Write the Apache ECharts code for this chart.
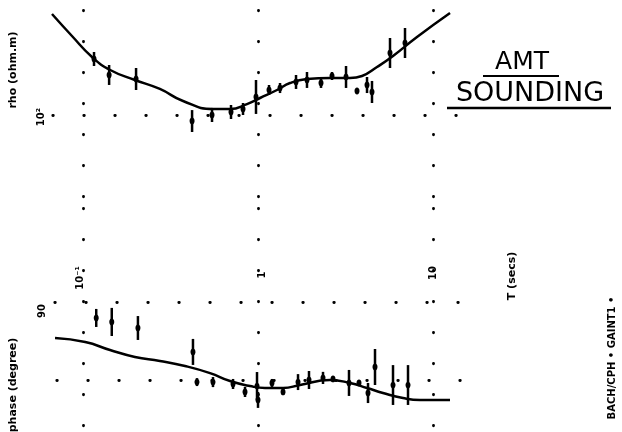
<!DOCTYPE html>
<html>
<head>
<meta charset="utf-8">
<title>AMT sounding</title>
<script src="https://cdn.jsdelivr.net/npm/echarts@6/dist/echarts.min.js"></script>
<style>
  html, body { margin: 0; padding: 0; background: #fff; }
  #chart { width: 622px; height: 432px; }
</style>
</head>
<body>
<div id="chart"></div>
<script>
// model curve, apparent resistivity (period in secs, rho in ohm.m)
const rhoCurvePeriod = [0.0665, 0.0865, 0.1126, 0.143, 0.198, 0.275, 0.373, 0.553, 0.692, 0.865,
  1.027, 1.284, 1.524, 1.905, 2.578, 3.355, 3.929, 4.786, 5.908, 8.101, 12.51];
const rhoCurve = [4256, 1880, 862, 532, 367, 263, 168, 125, 125, 150,
  188, 253, 328, 381, 395, 395, 426, 595, 894, 1811, 4416];

// measured rho with error bar ends
const rhoPeriod = [0.1156, 0.141, 0.201, 0.42, 0.546, 0.701, 0.821, 0.974, 1.156, 1.336,
  1.649, 1.905, 2.291, 2.648, 3.184, 3.679, 4.197, 4.481, 5.679, 6.918];
const rhoValue = [800, 442, 381, 80, 100, 112, 125, 195, 253, 273, 341, 367, 328, 426, 410, 244, 305, 235, 1000, 1450];
const rhoLow = [617, 305, 253, 53.2, 77.1, 86.2, 100, 104, 210, 226, 263, 273, 273, 367, 273, 244, 226, 156, 573, 830];
const rhoHigh = [1038, 641, 573, 120, 130, 145, 156, 367, 305, 328, 442, 494, 395, 494, 617, 244, 410, 354, 1745, 2530];

// model curve, phase (degrees)
const phaseCurvePeriod = [0.0692, 0.103, 0.1427, 0.198, 0.275, 0.3828, 0.532, 0.692, 0.9, 1.096,
  1.39, 1.738, 2.578, 3.355, 4.197, 5.179, 6.739, 8.43, 12.51];
const phaseCurve = [69.2, 66.9, 62.3, 58.3, 56.0, 53.1, 49.0, 44.4, 41.5, 40.4,
  40.4, 42.1, 45.0, 43.3, 40.4, 37.5, 34.6, 33.5, 33.5];

// measured phase with +/- error
const phasePeriod = [0.119, 0.146, 0.206, 0.425, 0.448, 0.553, 0.72, 0.843, 0.987, 1.0, 1.202,
  1.39, 1.693, 1.956, 2.352, 2.683, 3.311, 3.777, 4.252, 4.662, 5.908, 7.197];
const phaseValue = [80.8, 78.5, 75.0, 61.2, 43.8, 43.8, 42.7, 38.1, 41.5, 33.5, 43.3,
  38.1, 43.8, 45.0, 46.2, 45.6, 43.3, 43.3, 37.5, 52.5, 42.1, 42.1];
const phaseErr = [5.2, 8.1, 6.9, 7.5, 2.3, 2.9, 2.9, 2.9, 8.1, 4.6, 2.3,
  1.7, 4.6, 5.2, 3.5, 1.7, 7.5, 1.7, 5.8, 10.4, 11.5, 11.5];

// dotted reference lines
const periodDecades = [0.1, 1, 10];
const rhoRows = [100];
const phaseRows = [90, 45];

const chart = echarts.init(document.getElementById('chart'));

const ink = '#000';
const labelFont = 'bold 11px "DejaVu Sans"';

// draw one error bar with a blob at the measured value
function errorBar(params, api) {
  const t = api.value(0);
  const mid = api.coord([t, api.value(1)]);
  const lo = api.coord([t, api.value(2)]);
  const hi = api.coord([t, api.value(3)]);
  const children = [];
  if (Math.abs(hi[1] - lo[1]) > 0.5) {
    children.push({
      type: 'line',
      shape: { x1: lo[0], y1: lo[1], x2: hi[0], y2: hi[1] },
      style: { stroke: ink, lineWidth: 2.5 }
    });
  }
  children.push({
    type: 'ellipse',
    shape: { cx: mid[0], cy: mid[1], rx: 2.5, ry: 3.4 },
    style: { fill: ink }
  });
  return { type: 'group', children: children };
}

// dotted lines: vertical at decades, horizontal at the rows
function dots(rows, vOffset, hOffsets) {
  const items = periodDecades.map(function (p) {
    return { xAxis: p, lineStyle: { dashOffset: vOffset } };
  });
  rows.forEach(function (v, i) {
    items.push({ yAxis: v, lineStyle: { dashOffset: hOffsets[i] } });
  });
  return {
    silent: true,
    symbol: ['none', 'none'],
    label: { show: false },
    lineStyle: { color: ink, width: 2.8, type: [0.5, 30.5], cap: 'round' },
    data: items
  };
}

// rotated text helper
function vText(x, y, text, font) {
  return {
    type: 'text', x: x, y: y, rotation: Math.PI / 2,
    style: { text: text, font: font || labelFont, fill: ink, align: 'center', verticalAlign: 'middle' }
  };
}

const xAxisBase = {
  type: 'log',
  min: 0.05679,
  max: 16.27,
  show: false
};

const option = {
  backgroundColor: '#fff',
  animation: false,
  grid: [
    { left: 40, right: 152, top: 0, height: 200 },
    { left: 40, right: 152, top: 200, height: 232 }
  ],
  xAxis: [
    Object.assign({ gridIndex: 0 }, xAxisBase),
    Object.assign({ gridIndex: 1 }, xAxisBase)
  ],
  yAxis: [
    { gridIndex: 0, type: 'log', min: 4.256, max: 7158, show: false },
    { gridIndex: 1, type: 'value', min: 15, max: 148.85, show: false }
  ],
  series: [
    {
      type: 'line',
      xAxisIndex: 0, yAxisIndex: 0,
      smooth: 0.5,
      showSymbol: false,
      lineStyle: { color: ink, width: 2.5 },
      data: rhoCurvePeriod.map(function (t, i) { return [t, rhoCurve[i]]; }),
      markLine: dots(rhoRows, 27.8, [18.2])
    },
    {
      type: 'custom',
      xAxisIndex: 0, yAxisIndex: 0,
      renderItem: errorBar,
      encode: { x: 0, y: [1, 2, 3] },
      data: rhoPeriod.map(function (t, i) { return [t, rhoValue[i], rhoLow[i], rhoHigh[i]]; })
    },
    {
      type: 'line',
      xAxisIndex: 1, yAxisIndex: 1,
      smooth: 0.5,
      showSymbol: false,
      lineStyle: { color: ink, width: 2.5 },
      data: phaseCurvePeriod.map(function (t, i) { return [t, phaseCurve[i]]; }),
      markLine: dots(phaseRows, 24.8, [16.2, 14.2])
    },
    {
      type: 'custom',
      xAxisIndex: 1, yAxisIndex: 1,
      renderItem: errorBar,
      encode: { x: 0, y: [1, 2, 3] },
      data: phasePeriod.map(function (t, i) {
        return [t, phaseValue[i], phaseValue[i] - phaseErr[i], phaseValue[i] + phaseErr[i]];
      })
    }
  ],
  graphic: [
    vText(13, 70, 'rho (ohm.m)'),
    vText(41, 117, '10²', 'bold 10px "DejaVu Sans"'),
    vText(13, 385, 'phase (degree)'),
    vText(42, 311, '90', 'bold 10px "DejaVu Sans"'),
    vText(80, 278, '10⁻¹', 'bold 10px "DejaVu Sans"'),
    vText(262, 275, '1', 'bold 10px "DejaVu Sans"'),
    vText(433, 273, '10', 'bold 10px "DejaVu Sans"'),
    vText(512, 276, 'T (secs)'),
    vText(612, 358, 'BACH/CPH • GAINT1 •', 'bold 10px "DejaVu Sans"'),
    {
      type: 'text', x: 522, y: 62,
      style: { text: 'AMT', font: '25px "DejaVu Sans"', fill: ink, align: 'center', verticalAlign: 'middle' }
    },
    { type: 'line', shape: { x1: 483, y1: 76, x2: 559, y2: 76 }, style: { stroke: ink, lineWidth: 2 } },
    {
      type: 'text', x: 530, y: 94,
      style: { text: 'SOUNDING', font: '27px "DejaVu Sans"', fill: ink, align: 'center', verticalAlign: 'middle' }
    },
    { type: 'line', shape: { x1: 447, y1: 108, x2: 611, y2: 108 }, style: { stroke: ink, lineWidth: 2.5 } }
  ]
};

chart.setOption(option);
</script>
</body>
</html>
